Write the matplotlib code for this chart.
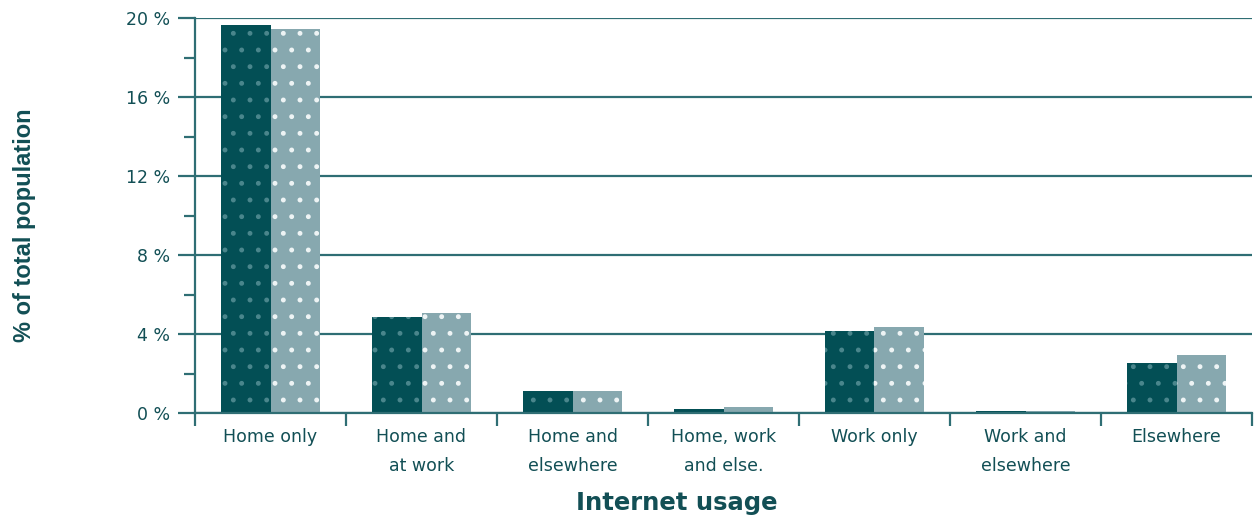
import numpy as np
import matplotlib
matplotlib.use("Agg")
import matplotlib.pyplot as plt
from matplotlib.ticker import MultipleLocator, FixedLocator

categories = ['Home only', 'Home and\nat work', 'Home and\nelsewhere', 'Home, work\nand else.',
              'Work only', 'Work and\nelsewhere', 'Elsewhere']
series_a = [19.65, 4.86, 1.11, 0.20, 4.15, 0.10, 2.53]
series_b = [19.44, 5.06, 1.11, 0.30, 4.35, 0.08, 2.94]
yticks = [0, 4, 8, 12, 16, 20]
ytick_labels = ['0 %', '4 %', '8 %', '12 %', '16 %', '20 %']

DARK = '#034f55'
LIGHT = '#87a8af'
LINE = '#2f6e74'
TEXT = '#124f55'

plt.rcParams['hatch.linewidth'] = 1.1

W, H = 1254, 519
fig = plt.figure(figsize=(W / 100, H / 100), dpi=100)
ax = fig.add_axes([195 / W, (H - 413) / H, 1057 / W, 395 / H])

x = np.arange(len(categories))
bw = 0.325
ax.bar(x - bw / 2, series_a, bw, color=DARK, edgecolor='#4a868c', linewidth=0, hatch='.', zorder=3)
ax.bar(x + bw / 2, series_b, bw, color=LIGHT, edgecolor='#eef4f5', linewidth=0, hatch='.', zorder=3)

ax.set_xlim(-0.5, len(categories) - 0.5)
ax.set_ylim(0, 20)
ax.set_yticks(yticks)
ax.set_yticklabels(ytick_labels)
ax.yaxis.set_minor_locator(MultipleLocator(2))
ax.yaxis.grid(True, which='major', color=LINE, linewidth=1.6, zorder=1)
ax.set_axisbelow(True)

ax.set_xticks(x)
ax.set_xticklabels(categories, linespacing=1.75)
ax.xaxis.set_minor_locator(FixedLocator(np.arange(-0.5, len(categories), 1.0)))

for s in ['top', 'right']:
    ax.spines[s].set_visible(False)
ax.spines['left'].set_color(LINE)
ax.spines['left'].set_linewidth(1.6)
ax.spines['bottom'].set_color(LINE)
ax.spines['bottom'].set_linewidth(1.6)
ax.spines['bottom'].set_zorder(4)

ax.tick_params(axis='y', which='major', length=12, width=1.6, color=LINE, pad=6,
               labelsize=12.5, labelcolor=TEXT)
ax.tick_params(axis='y', which='minor', length=8, width=1.6, color=LINE)
ax.tick_params(axis='x', which='major', length=0, pad=11, labelsize=12.5, labelcolor=TEXT)
ax.tick_params(axis='x', which='minor', length=9, width=1.6, color=LINE)
for lbl in ax.get_xticklabels():
    lbl.set_verticalalignment('top')

fig.text(25 / W, 1 - 225 / H, '% of total population', rotation=90, ha='center', va='center',
         fontsize=17, fontweight='bold', color=TEXT, family='Liberation Sans')
fig.text(677 / W, 1 - 503 / H, 'Internet usage', ha='center', va='center',
         fontsize=17.5, fontweight='bold', color=TEXT, family='DejaVu Sans')

fig.savefig('out.png', dpi=100, facecolor='white')
